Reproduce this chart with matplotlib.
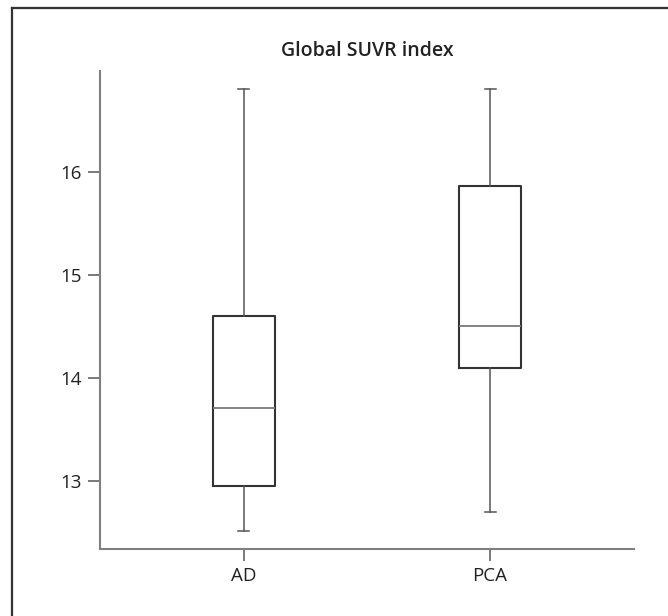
import matplotlib.pyplot as plt
from matplotlib.lines import Line2D

plt.rcParams['font.family'] = ['Open Sans', 'DejaVu Sans']

groups = ["AD", "PCA"]
whisker_low = [12.51, 12.70]
q1 = [12.95, 14.10]
median = [13.71, 14.50]
q3 = [14.60, 15.86]
whisker_high = [16.81, 16.81]
yticks = [13, 14, 15, 16]

stats = []
for i in range(len(groups)):
    stats.append({"label": groups[i], "whislo": whisker_low[i], "q1": q1[i],
                  "med": median[i], "q3": q3[i], "whishi": whisker_high[i],
                  "fliers": []})

fig = plt.figure(figsize=(6.68, 6.16), dpi=100)
ax = fig.add_axes([100/668, 1-549/616, 534/668, 478/616])

ax.bxp(stats, positions=[1, 2], widths=0.25, showfliers=False,
       boxprops=dict(color="#333333", linewidth=1.5),
       medianprops=dict(color="#7a7a7a", linewidth=1.3),
       whiskerprops=dict(color="#555555", linewidth=1.1),
       capprops=dict(color="#555555", linewidth=1.1),
       capwidths=0.045)

ax.set_xlim(0.415, 2.585)
ax.set_ylim(12.34, 16.98)
ax.set_yticks(yticks)
ax.set_xticks([1, 2])
ax.set_xticklabels(groups)

for s in ["top", "right"]:
    ax.spines[s].set_visible(False)
for s in ["left", "bottom"]:
    ax.spines[s].set_color("#808080")
    ax.spines[s].set_linewidth(1.5)
ax.tick_params(axis="both", colors="#555555", labelcolor="#222222",
               labelsize=13.5, length=8.5, width=1.1, pad=4.5)

fig.text(367/668, 1-51/616, "Global SUVR index", ha="center", va="center",
         fontsize=14, fontweight="semibold", color="#222222")

# outer frame (left and top edges only visible)
fig.add_artist(Line2D([11.5/668, 11.5/668], [0, 1-8/616], transform=fig.transFigure,
                      color="#333333", linewidth=1.6))
fig.add_artist(Line2D([11.5/668, 1], [1-8/616, 1-8/616], transform=fig.transFigure,
                      color="#333333", linewidth=1.6))

fig.savefig("out.png", dpi=100)
